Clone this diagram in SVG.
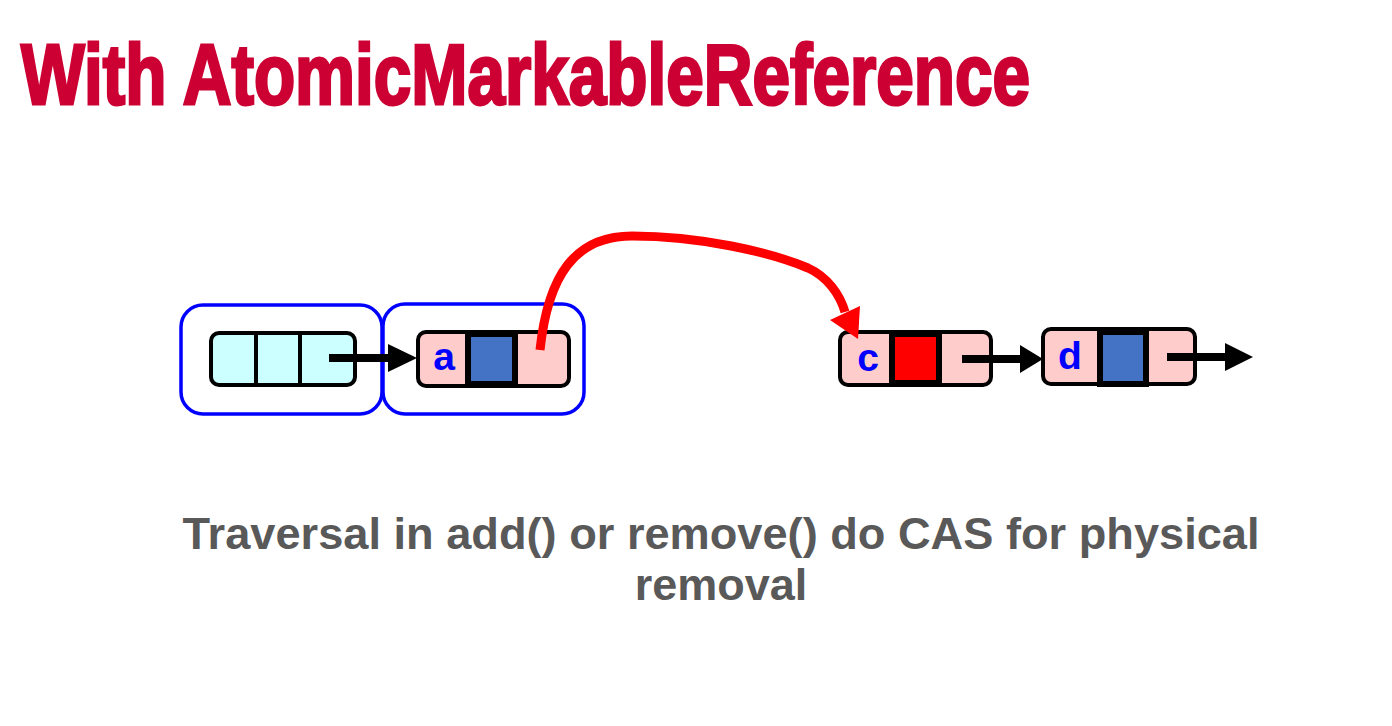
<svg xmlns="http://www.w3.org/2000/svg" width="1392" height="726" viewBox="0 0 1392 726">
<style>
.title{font-family:"Liberation Sans",Arial,sans-serif;font-weight:bold;font-size:86px;fill:#CC0033;stroke:#CC0033;stroke-width:3;stroke-linejoin:miter}
.cap{font-family:"Liberation Sans",Arial,sans-serif;font-weight:bold;font-size:45px;fill:#595959;text-anchor:middle}
.lbl{font-family:"Liberation Sans",Arial,sans-serif;font-weight:bold;font-size:39px;fill:#0000FF;text-anchor:middle}
.frame{fill:none;stroke:#0000FF;stroke-width:3.5}
.node{stroke:#000;stroke-width:4}
.pink{fill:#FFCCCC}
.cyan{fill:#CCFFFF}
.div{stroke:#000;stroke-width:4}
.cell{stroke:#000;stroke-width:6}
.line{stroke:#000;stroke-width:8;fill:none}
.head{fill:#000}
</style>
<rect width="1392" height="726" fill="#fff"/>
<text class="title" x="21" y="104" textLength="1009" lengthAdjust="spacingAndGlyphs">With AtomicMarkableReference</text>

<g id="frame-left"><rect class="frame" x="181" y="305" width="201" height="109" rx="22"/></g>
<g id="frame-right"><rect class="frame" x="383" y="304" width="201" height="110" rx="22"/></g>

<g id="node-head">
<rect class="node cyan" x="211" y="333" width="144" height="52" rx="8"/>
<line class="div" x1="256" y1="333" x2="256" y2="385"/>
<line class="div" x1="300" y1="333" x2="300" y2="385"/>
</g>

<g id="node-a">
<rect class="node pink" x="418" y="332" width="151" height="54" rx="8"/>
<rect class="cell" x="468" y="334" width="47" height="50" fill="#4472C4"/>
<text class="lbl" x="444" y="370">a</text>
</g>

<g id="node-c">
<rect class="node pink" x="840" y="332" width="151" height="53" rx="8"/>
<rect class="cell" x="892" y="334" width="47" height="49" fill="#FF0000"/>
<text class="lbl" x="868" y="371">c</text>
</g>

<g id="node-d">
<rect class="node pink" x="1043" y="329" width="152" height="55" rx="8"/>
<rect class="cell" x="1100" y="332" width="46" height="52" fill="#4472C4"/>
<text class="lbl" x="1070" y="369">d</text>
</g>

<g id="connectors">
<line class="line" x1="329" y1="358" x2="390" y2="358"/>
<polygon class="head" points="388,344 417,358 388,372"/>
<line class="line" x1="962" y1="359" x2="1022" y2="359"/>
<polygon class="head" points="1020,345 1043,359 1020,373"/>
<line class="line" x1="1167" y1="357" x2="1227" y2="357"/>
<polygon class="head" points="1225,343 1253,357 1225,371"/>
<path d="M540,350 C548,275 575,236 632,236 C700,236 770,252 808,268 C828,277 840,295 845,312" fill="none" stroke="#FF0000" stroke-width="9"/>
<polygon points="830,320 858,339 860,306" fill="#FF0000"/>
</g>

<text class="cap" x="721" y="549" textLength="1077" lengthAdjust="spacingAndGlyphs">Traversal in add() or remove() do CAS for physical</text>
<text class="cap" x="721" y="600">removal</text>
</svg>
